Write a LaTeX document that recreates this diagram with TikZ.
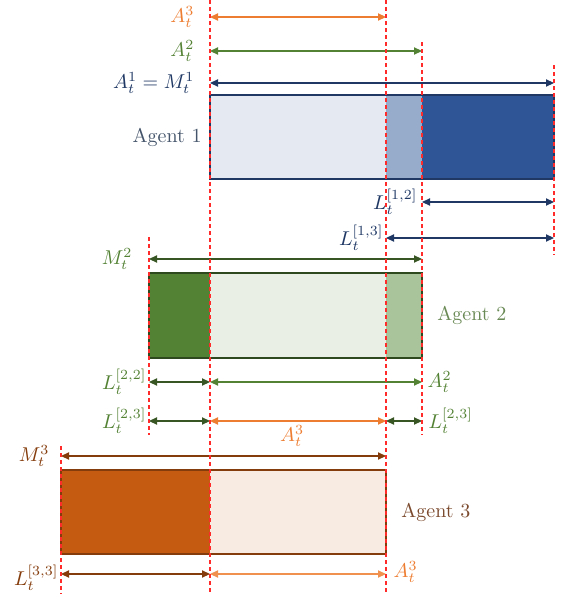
\documentclass[tikz,border=0pt]{standalone}
\usepackage{amsmath, amssymb}
\usepackage{xcolor}
\usepackage{tikz}
\usetikzlibrary{arrows.meta, positioning}

\definecolor{navy}{HTML}{1F3864}
\definecolor{navydark}{HTML}{2F5597}
\definecolor{navymid}{HTML}{97ABCB}
\definecolor{navylight}{HTML}{E4E9F2}
\definecolor{navytext}{HTML}{44546A}
\definecolor{leaf}{HTML}{548235}
\definecolor{leafdark}{HTML}{375623}
\definecolor{leafmid}{HTML}{A9C49B}
\definecolor{leaflight}{HTML}{E9EFE4}
\definecolor{leaftext}{HTML}{6A8A55}
\definecolor{tang}{HTML}{ED7D31}
\definecolor{rust}{HTML}{843C0C}
\definecolor{rustdark}{HTML}{C55A11}
\definecolor{rustlight}{HTML}{F7EBE2}
\definecolor{rusttext}{HTML}{7B4A2E}
\definecolor{guidered}{HTML}{FF2A2A}

\begin{document}
\begin{tikzpicture}[x=0.5pt, y=-0.5pt,
      guide/.style={guidered, dash pattern=on 2pt off 1.5pt, line width=0.7pt},
      dim/.style={<->, >={Triangle[length=4pt, width=3.6pt]}, line width=0.6pt},
      lbl/.style={inner sep=0.5pt, font=\normalsize},
      frame/.style={line width=1.1pt}
    ]
    \useasboundingbox (0,0) rectangle (562,594);

    \foreach \n/\x in {g0/61, g1/149, g2/210, g3/386, g4/422, g5/554}
      \coordinate (\n) at (\x,0);
    \foreach \n/\y in {r1/17, r2/51, r3/83, r4/202, r5/238, r6/259, r7/382, r8/421, r9/456, r10/574,
                       b1t/95, b1b/179, m1/137, b2t/273, b2b/358, m2/315, b3t/470, b3b/554, m3/512}
      \coordinate (\n) at (0,\y);

    % agent 1
    \fill[navylight] (g2 |- b1t) rectangle (g3 |- b1b);
    \fill[navymid]   (g3 |- b1t) rectangle (g4 |- b1b);
    \fill[navydark]  (g4 |- b1t) rectangle (g5 |- b1b);
    \draw[frame, navy] (g2 |- b1t) rectangle (g5 |- b1b);
    \path (g2 |- m1) node[lbl, left=3.5pt, text=navytext] (ag1) {Agent 1};

    % agent 2
    \fill[leaf]      (g1 |- b2t) rectangle (g2 |- b2b);
    \fill[leaflight] (g2 |- b2t) rectangle (g3 |- b2b);
    \fill[leafmid]   (g3 |- b2t) rectangle (g4 |- b2b);
    \draw[frame, leafdark!85!black] (g1 |- b2t) rectangle (g4 |- b2b);
    \path (g4 |- m2) node[lbl, right=7pt, text=leaftext] (ag2) {Agent 2};

    % agent 3
    \fill[rustdark]  (g0 |- b3t) rectangle (g2 |- b3b);
    \fill[rustlight] (g2 |- b3t) rectangle (g3 |- b3b);
    \draw[frame, rust] (g0 |- b3t) rectangle (g3 |- b3b);
    \path (g3 |- m3) node[lbl, right=7pt, text=rusttext] (ag3) {Agent 3};

    % dimensions
    \draw[dim, tang] (g2 |- r1) node[lbl, left=7pt] (a3top) {$A_t^3$} -- (g3 |- r1);
    \draw[dim, leaf] (g2 |- r2) node[lbl, left=7pt] (a2top) {$A_t^2$} -- (g4 |- r2);
    \draw[dim, navy] (g2 |- r3) node[lbl, left=7pt] (a1top) {$A_t^1 = M_t^1$} -- (g5 |- r3);
    \draw[dim, navy] (g4 |- r4) node[lbl, left=1.5pt] (l12) {$L_t^{[1,2]}$} -- (g5 |- r4);
    \draw[dim, navy] (g3 |- r5) node[lbl, left=0.5pt] (l13) {$L_t^{[1,3]}$} -- (g5 |- r5);
    \draw[dim, leafdark] (g1 |- r6) node[lbl, left=7.5pt, text=leaf] (m2top) {$M_t^2$} -- (g4 |- r6);
    \draw[dim, leafdark] (g1 |- r7) node[lbl, left=0.5pt, text=leaf] (l22) {$L_t^{[2,2]}$} -- (g2 |- r7);
    \draw[dim, leaf] (g2 |- r7) -- (g4 |- r7) node[lbl, right=2pt] (a2mid) {$A_t^2$};
    \draw[dim, leafdark] (g1 |- r8) node[lbl, left=0.5pt, text=leaf] (l23a) {$L_t^{[2,3]}$} -- (g2 |- r8);
    \draw[dim, tang] (g2 |- r8) -- node[lbl, below=1.5pt, xshift=-3pt] (a3mid) {$A_t^3$} (g3 |- r8);
    \draw[dim, leafdark] (g3 |- r8) -- (g4 |- r8) node[lbl, right=2.5pt, text=leaf] (l23b) {$L_t^{[2,3]}$};
    \draw[dim, rust] (g0 |- r9) node[lbl, left=5pt] (m3top) {$M_t^3$} -- (g3 |- r9);
    \draw[dim, rust] (g0 |- r10) node[lbl, left=0.5pt, yshift=-2pt] (l33) {$L_t^{[3,3]}$} -- (g2 |- r10);
    \draw[dim, tang!85] (g2 |- r10) -- (g3 |- r10) node[lbl, right=3pt, yshift=1pt, text=tang] (a3bot) {$A_t^3$};

    % guide lines
    \foreach \g/\ya/\yb in {g0/446/594, g1/237/435, g2/0/594, g3/0/594, g4/42/435, g5/65/255}
      \draw[guide] (\g |- 0,\ya) -- (\g |- 0,\yb);
\end{tikzpicture}
\end{document}
